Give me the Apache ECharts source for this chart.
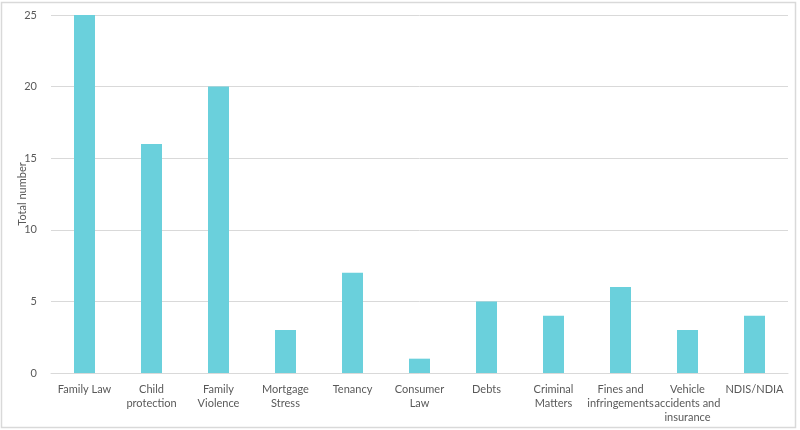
<!DOCTYPE html>
<html><head><meta charset="utf-8">
<script src="https://cdn.jsdelivr.net/npm/echarts@6/dist/echarts.min.js"></script>
<style>html,body{margin:0;padding:0;background:#fff}#c{width:800px;height:430px}</style>
</head><body><div id="c"></div>
<script>
const categories = ['Family Law','Child\nprotection','Family\nViolence','Mortgage\nStress','Tenancy','Consumer\nLaw','Debts','Criminal\nMatters','Fines and\ninfringements','Vehicle\naccidents and\ninsurance','NDIS/NDIA'];
const values = [25,16,20,3,7,1,5,4,6,3,4];
const yTicks = {min:0,max:25,interval:5};
const yTitle = 'Total number';
const chart = echarts.init(document.getElementById('c'));
chart.setOption({
  animation:false,
  textStyle:{fontFamily:'Lato'},
  graphic:[
    {type:'rect',shape:{x:1.5,y:2.5,width:794,height:425},style:{fill:'none',stroke:'#d9d9d9',lineWidth:1.5},silent:true},
    {type:'text',x:22,y:194,rotation:Math.PI/2,style:{text:yTitle,fill:'#595959',font:'11px Lato',align:'center',verticalAlign:'middle'},silent:true}
  ],
  grid:{left:51,right:12,top:15,bottom:57,containLabel:false,outerBoundsMode:'none'},
  xAxis:{type:'category',data:categories,
    axisLine:{lineStyle:{color:'#d9d9d9'}},axisTick:{show:false},
    axisLabel:{color:'#595959',fontSize:11,lineHeight:14,margin:9,interval:0}},
  yAxis:{type:'value',min:yTicks.min,max:yTicks.max,interval:yTicks.interval,
    axisLine:{show:false},axisTick:{show:false},
    axisLabel:{color:'#595959',fontSize:11,margin:14},
    splitLine:{lineStyle:{color:'#d9d9d9'}}},
  series:[{type:'bar',data:values,barWidth:21,itemStyle:{color:'#6AD0DC'}}]
});
</script></body></html>
